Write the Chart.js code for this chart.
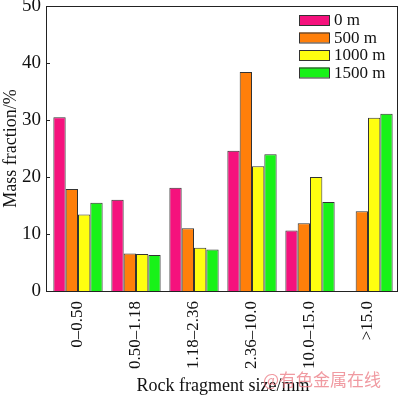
<!DOCTYPE html>
<html>
<head>
<meta charset="utf-8">
<script src="https://cdn.jsdelivr.net/npm/chart.js@4/dist/chart.umd.min.js"></script>
<style>
  html, body { margin: 0; padding: 0; background: #fff; }
  #wrap { width: 400px; height: 397px; position: relative; }
</style>
</head>
<body>
<div id="wrap"><canvas id="sizeChart"></canvas></div>
<script>
// Rock fragment size distribution at four depths
const categories = ['0\u20130.50', '0.50\u20131.18', '1.18\u20132.36', '2.36\u201310.0', '10.0\u201315.0', '>15.0'];
const seriesNames = ['0 m', '500 m', '1000 m', '1500 m'];
const depth0 = [30.5, 16.0, 18.1, 24.6, 10.6, null];
const depth500 = [17.9, 6.6, 11.0, 38.4, 11.9, 14.0];
const depth1000 = [13.4, 6.5, 7.6, 21.9, 20.0, 30.4];
const depth1500 = [15.5, 6.3, 7.3, 24.0, 15.6, 31.1];
const yTicks = [0, 10, 20, 30, 40, 50];
const colors = ['#f5127d', '#ff7f0a', '#ffff10', '#18f218'];

const serif = '"Liberation Serif", "Times New Roman", serif';

// frame, inward ticks, legend and watermark
const framePlugin = {
    id: 'frame',
    afterDraw(chart) {
        const ctx = chart.ctx;
        const a = chart.chartArea;
        const y = chart.scales.y;
        const left = a.left - 3;
        ctx.save();
        ctx.strokeStyle = '#222';
        ctx.lineWidth = 1;
        ctx.strokeRect(left + 0.5, a.top + 0.5, a.right - left, a.bottom - a.top);
        yTicks.forEach(v => {
            const py = Math.round(y.getPixelForValue(v)) + 0.5;
            ctx.beginPath();
            ctx.moveTo(left, py);
            ctx.lineTo(left + 4, py);
            ctx.stroke();
        });
        // legend
        ctx.font = '17px ' + serif;
        ctx.textBaseline = 'middle';
        seriesNames.forEach((name, i) => {
            const ly = 20 + i * 17.5;
            ctx.fillStyle = colors[i];
            ctx.fillRect(299, ly - 5, 30, 10);
            ctx.strokeStyle = '#333';
            ctx.strokeRect(299.5, ly - 5 + 0.5, 30, 10);
            ctx.fillStyle = '#111';
            ctx.fillText(name, 334, ly + 1);
        });
        // watermark
        ctx.font = '17px "Noto Sans CJK SC", sans-serif';
        ctx.fillStyle = 'rgba(235, 120, 130, 0.75)';
        ctx.fillText('@有色金属在线', 263, 380);
        ctx.restore();
    }
};

new Chart(document.getElementById('sizeChart').getContext('2d'), {
    type: 'bar',
    data: {
        labels: categories,
        datasets: [depth0, depth500, depth1000, depth1500].map((d, i) => ({
            label: seriesNames[i],
            data: d,
            backgroundColor: colors[i],
            borderColor: '#333',
            borderWidth: 1,
            categoryPercentage: 0.85,
            barPercentage: 1.0
        }))
    },
    options: {
        responsive: true,
        maintainAspectRatio: false,
        animation: false,
        layout: { padding: { top: 6, right: 3, left: 0, bottom: 0 } },
        plugins: {
            legend: { display: false },
            tooltip: { enabled: false }
        },
        scales: {
            x: {
                grid: { display: false, drawTicks: false },
                border: { display: false },
                ticks: {
                    color: '#111',
                    font: { family: serif, size: 17 },
                    maxRotation: 90,
                    minRotation: 90,
                    padding: 10
                },
                title: {
                    display: true,
                    text: 'Rock fragment size/mm',
                    color: '#111',
                    font: { family: serif, size: 18 },
                    padding: { top: 0, bottom: 0 }
                },
                afterFit(scale) {
                    scale.height = 106;
                    scale.paddingLeft = 0;
                    scale.paddingRight = 0;
                }
            },
            y: {
                min: 0,
                max: 50,
                afterBuildTicks(scale) { scale.ticks = yTicks.map(v => ({ value: v })); },
                grid: { display: false, drawTicks: false },
                border: { display: false },
                ticks: {
                    color: '#111',
                    font: { family: serif, size: 19 },
                    padding: 8
                },
                title: {
                    display: true,
                    text: 'Mass fraction/%',
                    color: '#111',
                    font: { family: serif, size: 18 },
                    padding: { top: 0, bottom: 2 }
                },
                afterFit(scale) {
                    scale.width = 49;
                    scale.paddingTop = 0;
                    scale.paddingBottom = 0;
                }
            }
        }
    },
    plugins: [framePlugin]
});
</script>
</body>
</html>
